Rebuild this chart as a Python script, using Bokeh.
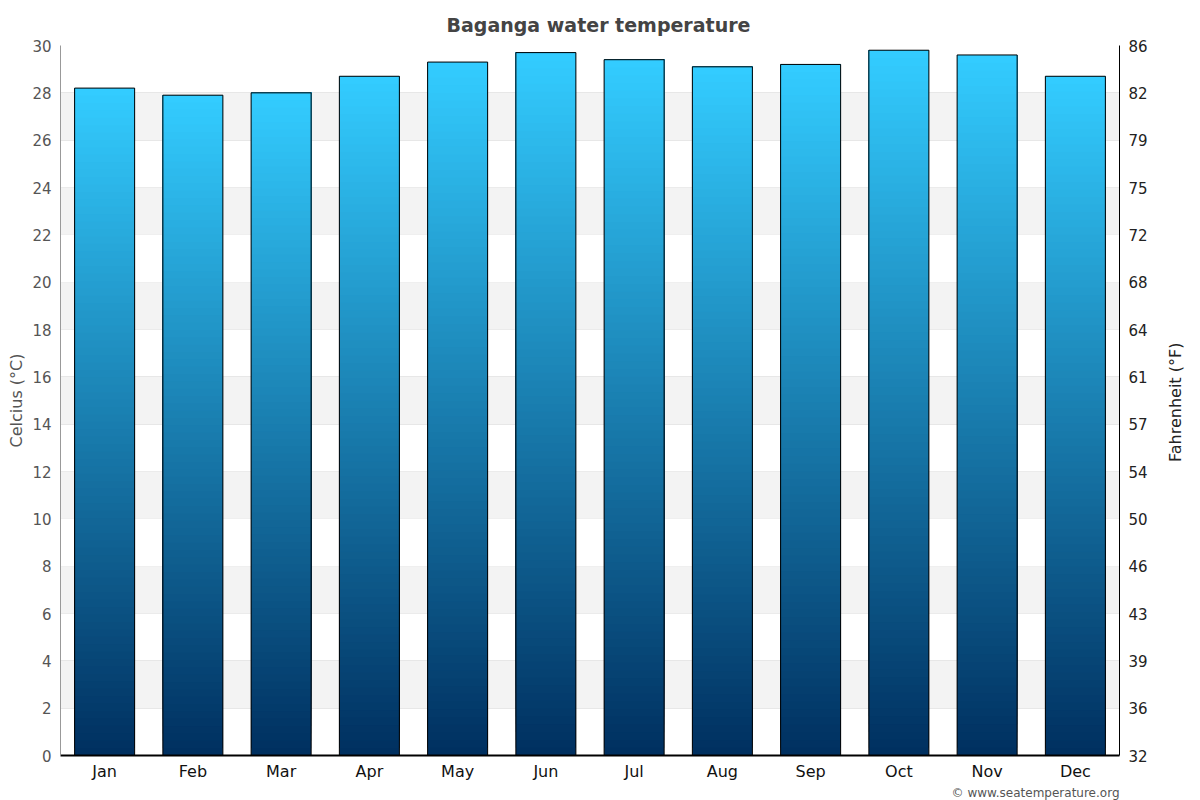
import numpy as np
from bokeh.plotting import figure
from bokeh.layouts import row
from bokeh.models import (FactorRange, Range1d, LinearAxis, FixedTicker, Title,
                          BoxAnnotation, ColumnDataSource)
from bokeh.core.properties import value
from bokeh.embed import file_html
from bokeh.resources import INLINE

months = ["Jan", "Feb", "Mar", "Apr", "May", "Jun", "Jul", "Aug", "Sep", "Oct", "Nov", "Dec"]
water_c = [28.2, 27.9, 28.0, 28.7, 29.3, 29.7, 29.4, 29.1, 29.2, 29.8, 29.6, 28.7]
c_ticks = [0, 2, 4, 6, 8, 10, 12, 14, 16, 18, 20, 22, 24, 26, 28, 30]
f_labels = ["32", "36", "39", "43", "46", "50", "54", "57", "61", "64", "68", "72", "75", "79", "82", "86"]
right_title = ["Fahrenheit (°F)"]

FONT = "DejaVu Sans"

p = figure(x_range=FactorRange(*months, range_padding=0), y_range=Range1d(0, 30),
           width=1160, height=800,
           min_border_left=60, min_border_right=41, min_border_top=45, min_border_bottom=45,
           output_backend="svg", toolbar_location=None, tools="")
p.outline_line_color = None
p.background_fill_color = "white"
p.border_fill_color = "white"

p.title.text = "Baganga water temperature"
p.title.align = "left"
p.title.offset = 386
p.title.text_font = FONT
p.title.text_font_size = "19px"
p.title.text_font_style = "bold"
p.title.text_color = "#444444"
p.title.standoff = 19

# alternating bands
for i in range(1, len(c_ticks) - 1, 2):
    p.add_layout(BoxAnnotation(bottom=c_ticks[i], top=c_ticks[i + 1], fill_color="#f3f3f3",
                               fill_alpha=1.0, line_color=None, level="underlay"))

p.xgrid.grid_line_color = None
p.ygrid.ticker = FixedTicker(ticks=c_ticks)
p.ygrid.grid_line_color = "#e3e3e3"
p.ygrid.grid_line_width = 1

# gradient bars
N = 90
top_rgb = np.array([51, 204, 255])
bot_rgb = np.array([0, 48, 96])
xs, bs, ts, cs = [], [], [], []
for m, v in zip(months, water_c):
    for i in range(N):
        f = i / (N - 1)
        rgb = (bot_rgb + (top_rgb - bot_rgb) * f).round().astype(int)
        xs.append(m)
        bs.append(v * i / N)
        ts.append(v)
        cs.append("#%02x%02x%02x" % tuple(rgb))
src = ColumnDataSource(dict(x=xs, b=bs, t=ts, c=cs))
p.vbar(x="x", bottom="b", top="t", width=0.68, fill_color="c", line_color=None, source=src)
p.vbar(x=months, top=water_c, bottom=0, width=0.68, fill_color=None, line_color="black", line_width=1)

# left axis
ya = p.yaxis[0]
ya.ticker = FixedTicker(ticks=c_ticks)
ya.axis_label = "Celcius (°C)"
ya.axis_label_text_font = FONT
ya.axis_label_text_font_style = "normal"
ya.axis_label_text_font_size = "16px"
ya.axis_label_text_color = "#555555"
ya.axis_label_standoff = 3
ya.major_label_text_font = FONT
ya.major_label_text_font_size = "15px"
ya.major_label_text_color = "#555555"
ya.axis_line_color = "#999999"
ya.major_tick_line_color = None
ya.minor_tick_line_color = None
ya.major_label_standoff = 3

# right axis
ra = LinearAxis(ticker=FixedTicker(ticks=c_ticks),
                major_label_overrides={c: f for c, f in zip(c_ticks, f_labels)})
ra.major_label_text_font = FONT
ra.major_label_text_font_size = "15px"
ra.major_label_text_color = "#222222"
ra.axis_line_color = "black"
ra.major_tick_line_color = None
ra.minor_tick_line_color = None
ra.major_label_standoff = 3
p.add_layout(ra, "right")

# x axis
xa = p.xaxis[0]
xa.major_label_text_font = FONT
xa.major_label_text_font_size = "16px"
xa.major_label_text_color = "#111111"
xa.axis_line_color = "black"
xa.axis_line_width = 2
xa.major_tick_line_color = None
xa.minor_tick_line_color = None
xa.major_label_standoff = 0

p.add_layout(Title(text="© www.seatemperature.org", align="right", text_font=FONT,
                   text_font_size="12px", text_font_style="normal", text_color="#555555",
                   standoff=1), "below")

# narrow strip holding the right-hand axis title
p2 = figure(width=40, height=800, x_range=Range1d(0, 40), y_range=Range1d(0, 800),
            min_border_left=0, min_border_right=0, min_border_top=0, min_border_bottom=0,
            x_axis_type=None, y_axis_type=None,
            output_backend="svg", toolbar_location=None, tools="")
p2.outline_line_color = None
p2.grid.visible = False
p2.border_fill_color = "white"
p2.text(x=[15], y=[398], text=right_title, angle=np.pi / 2, text_font=value(FONT),
        text_font_size="16px", text_color="#222222", text_align="center", text_baseline="middle")

open("out.html", "w").write(file_html(row(p, p2), INLINE))
